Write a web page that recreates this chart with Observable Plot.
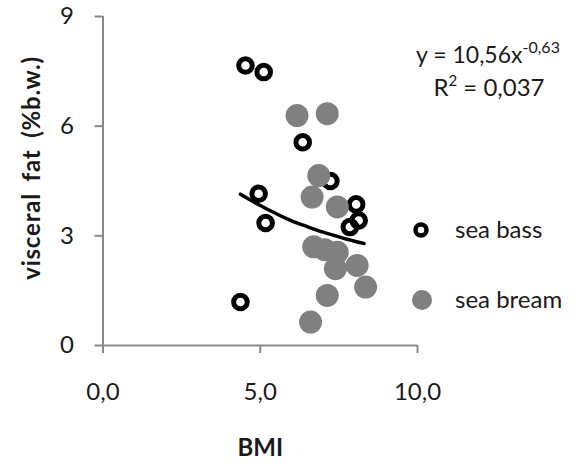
<!DOCTYPE html>
<html>
<head>
<meta charset="utf-8">
<script src="https://cdn.jsdelivr.net/npm/d3@7"></script>
<script src="https://cdn.jsdelivr.net/npm/@observablehq/plot@0.6"></script>
<style>
  html, body { margin: 0; padding: 0; background: white; }
</style>
</head>
<body>
<div id="chart"></div>
<script>
// sea bass (open circles)
const bassX = [4.53, 5.11, 6.35, 4.95, 5.17, 4.37, 7.23, 8.05, 8.13, 7.85];
const bassY = [7.66, 7.48, 5.56, 4.15, 3.35, 1.19, 4.50, 3.86, 3.42, 3.24];
// sea bream (grey filled)
const breamX = [6.17, 7.13, 6.86, 6.65, 7.45, 6.70, 7.05, 7.45, 7.39, 8.08, 8.35, 7.13, 6.60];
const breamY = [6.29, 6.34, 4.65, 4.06, 3.79, 2.70, 2.62, 2.55, 2.10, 2.19, 1.60, 1.37, 0.64];
// power trend line
const trendX = [4.37, 5.0, 5.5, 6.0, 6.5, 7.0, 7.5, 8.0, 8.3];
const trendY = [4.14, 3.83, 3.61, 3.41, 3.25, 3.10, 2.97, 2.85, 2.79];
// ticks
const xTicks = [0, 5, 10];
const yTicks = [0, 3, 6, 9];
const xTitle = "BMI";
const yTitle = "visceral fat (%b.w.)";
const seriesNames = ["sea bass", "sea bream"];
const eqMain = "y = 10,56x";
const eqExp = "-0,63";
const r2Label = "R";
const r2Value = " = 0,037";

const bass = bassX.map((x, i) => ({x, y: bassY[i]}));
const bream = breamX.map((x, i) => ({x, y: breamY[i]}));
const trend = trendX.map((x, i) => ({x, y: trendY[i]}));
const comma = d => d.toFixed(1).replace(".", ",");

const axisGrey = "#8a8a8a";
const textCol = "#1a1a1a";
const breamCol = "#808080";

const chart = Plot.plot({
  width: 583,
  height: 465,
  marginLeft: 102.5,
  marginRight: 166,
  marginTop: 16,
  marginBottom: 120,
  x: {domain: [0, 10]},
  y: {domain: [0, 9]},
  style: {fontFamily: "Lato, sans-serif", background: "white", color: textCol},
  marks: [
    Plot.ruleY([0], {stroke: axisGrey, strokeWidth: 2}),
    Plot.ruleX([0], {stroke: axisGrey, strokeWidth: 2}),
    Plot.axisX({ticks: xTicks, tickFormat: comma, tickSize: 8, tickPadding: 29, fontSize: 24,
                stroke: axisGrey, strokeWidth: 2, fill: textCol, label: null}),
    Plot.axisY({ticks: yTicks, tickFormat: d => String(d), tickSize: 8, tickPadding: 21, fontSize: 24,
                stroke: axisGrey, strokeWidth: 2, fill: textCol, label: null}),
    Plot.dot(bass, {x: "x", y: "y", r: 6.8, stroke: "black", strokeWidth: 5, fill: "none"}),
    Plot.dot(bream, {x: "x", y: "y", r: 11.5, fill: breamCol, stroke: "none"}),
    Plot.line(trend, {x: "x", y: "y", stroke: "black", strokeWidth: 3.5, curve: "catmull-rom"}),
    Plot.text([xTitle], {text: d => d, frameAnchor: "bottom", dy: 103, textAnchor: "middle", lineAnchor: "middle",
                         fontSize: 24, fontWeight: "bold", fill: textCol}),
    Plot.text([yTitle], {text: d => d, frameAnchor: "left", dx: -71, dy: -13, rotate: -90,
                         textAnchor: "middle", lineAnchor: "middle", fontSize: 24, fontWeight: "bold", fill: textCol})
  ]
});

document.getElementById("chart").appendChild(chart);

const svg = d3.select(chart);
// slightly wider tracking for the y title, as in the reference
svg.selectAll("text").filter(function() { return this.textContent === yTitle; })
  .style("letter-spacing", "0.8px").style("word-spacing", "5px");

// equation annotation
const eq = svg.append("text")
  .attr("x", 488).attr("y", 63)
  .attr("text-anchor", "middle")
  .attr("font-family", "Lato, sans-serif")
  .attr("font-size", 23)
  .attr("fill", textCol);
eq.append("tspan").text(eqMain);
eq.append("tspan").attr("font-size", 16).attr("dy", -10).text(eqExp);

const r2 = svg.append("text")
  .attr("x", 489).attr("y", 96)
  .attr("text-anchor", "middle")
  .attr("font-family", "Lato, sans-serif")
  .attr("font-size", 24)
  .attr("fill", textCol);
r2.append("tspan").text(r2Label);
r2.append("tspan").attr("font-size", 15).attr("dy", -10).text("2");
r2.append("tspan").attr("dy", 10).text(r2Value);

// legend
const leg = svg.append("g").attr("font-family", "Lato, sans-serif").attr("font-size", 24)
  .attr("fill", textCol).attr("text-anchor", "start");
leg.append("circle").attr("cx", 421).attr("cy", 230).attr("r", 5.5)
  .attr("fill", "none").attr("stroke", "black").attr("stroke-width", 4.5);
leg.append("text").attr("x", 455).attr("y", 230).attr("dy", "0.35em").text(seriesNames[0]);
leg.append("circle").attr("cx", 422).attr("cy", 300).attr("r", 10).attr("fill", breamCol);
leg.append("text").attr("x", 455).attr("y", 300).attr("dy", "0.35em").text(seriesNames[1]);
</script>
</body>
</html>
